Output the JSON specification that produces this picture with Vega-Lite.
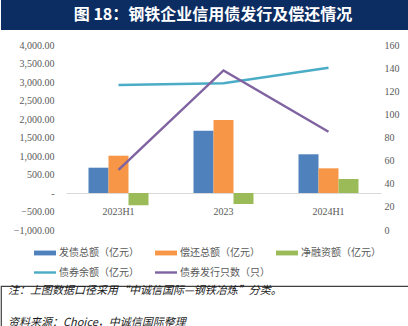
{
  "$schema": "https://vega.github.io/schema/vega-lite/v6.json",
  "padding": 0,
  "background": "white",
  "columns": 1,
  "spacing": 0,
  "center": false,
  "config": {"view": {"stroke": null}},
  "concat": [
    {
      "width": 408,
      "height": 30,
      "view": {"fill": "#0c2d62", "stroke": null},
      "data": {"values": [{"t": "图 18：钢铁企业信用债发行及偿还情况"}]},
      "mark": {"type": "text", "color": "white", "font": "Noto Sans CJK SC", "fontSize": 16, "fontWeight": "bold", "dx": 8},
      "encoding": {"text": {"field": "t", "type": "nominal"}}
    },
    {
      "width": 408,
      "height": 254,
      "data": {
        "values": [
          {"kind": "bar", "cat": "2023H1", "series": "发债总额（亿元）", "value": 684},
          {"kind": "bar", "cat": "2023H1", "series": "偿还总额（亿元）", "value": 1008},
          {"kind": "bar", "cat": "2023H1", "series": "净融资额（亿元）", "value": -330},
          {"kind": "bar", "cat": "2023", "series": "发债总额（亿元）", "value": 1684},
          {"kind": "bar", "cat": "2023", "series": "偿还总额（亿元）", "value": 1973},
          {"kind": "bar", "cat": "2023", "series": "净融资额（亿元）", "value": -295},
          {"kind": "bar", "cat": "2024H1", "series": "发债总额（亿元）", "value": 1046},
          {"kind": "bar", "cat": "2024H1", "series": "偿还总额（亿元）", "value": 667},
          {"kind": "bar", "cat": "2024H1", "series": "净融资额（亿元）", "value": 378},
          {"kind": "line", "cat": "2023H1", "series": "债券余额（亿元）", "value": 125.4},
          {"kind": "line", "cat": "2023", "series": "债券余额（亿元）", "value": 126.9},
          {"kind": "line", "cat": "2024H1", "series": "债券余额（亿元）", "value": 140.4},
          {"kind": "line", "cat": "2023H1", "series": "债券发行只数（只）", "value": 52},
          {"kind": "line", "cat": "2023", "series": "债券发行只数（只）", "value": 138},
          {"kind": "line", "cat": "2024H1", "series": "债券发行只数（只）", "value": 85}
        ]
      },
      "encoding": {
        "x": {
          "field": "cat", "type": "nominal", "sort": ["2023H1", "2023", "2024H1"],
          "scale": {"range": [65, 380], "paddingInner": 0.4286, "paddingOuter": 0.2143},
          "axis": {"title": null, "labelAngle": 0, "offset": -91, "domainColor": "#d9d9d9", "domainWidth": 1, "ticks": false, "grid": false, "labelPadding": 13, "labelFont": "Liberation Serif", "labelFontSize": 10, "labelColor": "#595959"}
        }
      },
      "layer": [
        {
          "transform": [{"filter": "datum.kind == 'bar'"}],
          "mark": {"type": "bar"},
          "encoding": {
            "xOffset": {"field": "series", "type": "nominal", "sort": ["发债总额（亿元）", "偿还总额（亿元）", "净融资额（亿元）"], "scale": {"paddingInner": 0, "paddingOuter": 0}},
            "y": {
              "field": "value", "type": "quantitative",
              "scale": {"domain": [-1000, 4000], "range": [200, 15], "nice": false, "zero": true},
              "axis": {"title": null, "offset": -65, "values": [-1000, -500, 0, 500, 1000, 1500, 2000, 2500, 3000, 3500, 4000], "labelExpr": "datum.value == 0 ? '-' : format(datum.value, ',.2f')", "domain": false, "ticks": false, "grid": false, "labelPadding": 12, "labelFont": "Liberation Serif", "labelFontSize": 10, "labelColor": "#595959"}
            },
            "color": {
              "field": "series", "type": "nominal",
              "scale": {"domain": ["发债总额（亿元）", "偿还总额（亿元）", "净融资额（亿元）", "债券余额（亿元）", "债券发行只数（只）"], "range": ["#4f81bd", "#f79646", "#9bbb59", "#4bacc6", "#8064a2"]},
              "legend": {"title": null, "orient": "none", "legendX": 33, "legendY": 242, "direction": "horizontal", "columns": 3, "gridAlign": "all", "columnPadding": 6, "rowPadding": 3.5, "symbolType": "M-1,-0.2H1V0.2H-1Z", "symbolSize": 484, "symbolStrokeWidth": 0, "labelFont": "Noto Sans CJK SC", "labelFontSize": 10, "labelColor": "#595959", "labelOffset": 3,
                "encode": {"symbols": {"update": {"shape": {"signal": "datum.index >= 3 ? 'M-1,-0.11H1V0.11H-1Z' : 'M-1,-0.22H1V0.22H-1Z'"}}}}}
            }
          }
        },
        {
          "transform": [{"filter": "datum.kind == 'line'"}],
          "mark": {"type": "line", "strokeWidth": 2.5},
          "encoding": {
            "y": {
              "field": "value", "type": "quantitative",
              "scale": {"domain": [0, 160], "range": [200, 15], "nice": false},
              "axis": {"title": null, "orient": "right", "offset": -28, "values": [0, 20, 40, 60, 80, 100, 120, 140, 160], "domain": false, "ticks": false, "grid": false, "labelPadding": 3, "labelFont": "Liberation Serif", "labelFontSize": 10, "labelColor": "#595959"}
            },
            "color": {"field": "series", "type": "nominal"}
          }
        }
      ],
      "resolve": {"scale": {"y": "independent"}}
    },
    {
      "width": 408,
      "height": 42,
      "view": {"stroke": "#404040", "strokeWidth": 1.2},
      "data": {"values": [
        {"row": "1", "t": "注：上图数据口径采用“中诚信国际—钢铁冶炼”分类。"},
        {"row": "2", "t": "资料来源：Choice，中诚信国际整理"}
      ]},
      "mark": {"type": "text", "align": "left", "fontStyle": "italic", "font": "Noto Sans CJK SC", "fontSize": 11, "color": "#1a1a1a"},
      "encoding": {
        "x": {"value": 7},
        "y": {"field": "row", "type": "ordinal", "scale": {"type": "point", "padding": 0.177}, "axis": null},
        "text": {"field": "t", "type": "nominal"}
      }
    }
  ]
}
